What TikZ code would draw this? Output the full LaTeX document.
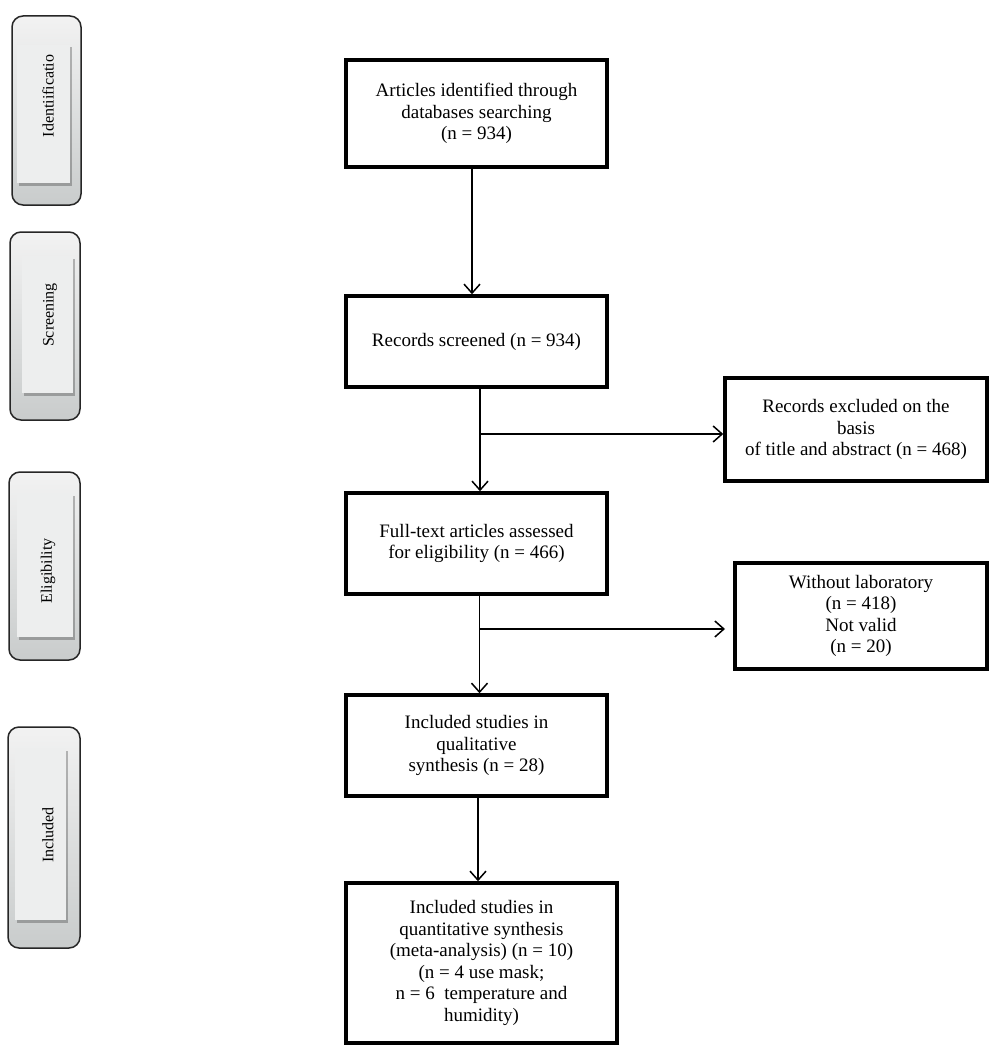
\documentclass[tikz,border=0pt]{standalone}
\usepackage{fontspec}
\setmainfont{Liberation Serif}
\usetikzlibrary{arrows.meta,shadows}
\definecolor{phtop}{HTML}{F2F2F2}
\definecolor{phbot}{HTML}{C9CCCC}
\definecolor{phin}{HTML}{EDEEEE}
\tikzset{
  box/.style={draw, line width=3.5pt, rectangle, align=center,
    font=\fontsize{19}{21.5}\selectfont, inner sep=0pt},
  arr/.style={line width=1.5pt, -{Straight Barb[length=9pt,width=16pt,line width=1.5pt]}},
  phase/.style={draw=black!85, line width=1.5pt, rounded corners=11pt,
    top color=phtop, bottom color=phbot, inner sep=0pt},
  phasein/.style={fill=phin, inner sep=0pt,
    drop shadow={shadow xshift=1.5pt, shadow yshift=-2.5pt, fill=black, opacity=0.25}},
  phasetxt/.style={rotate=90, font=\fontsize{16}{17}\selectfont, inner sep=0pt}
}
\begin{document}
\begin{tikzpicture}[x=1pt,y=-1pt]
\useasboundingbox (0,0) rectangle (1000,1049);

% phase boxes
\node[phase, minimum width=69pt, minimum height=189pt] (p1) at (46.5,110.5) {};
\node[phasein, minimum width=53pt, minimum height=138pt] (p1i) at (43.5,114) {};
\node[phasetxt] (t1) at (48,96) {Identiificatio};

\node[phase, minimum width=70pt, minimum height=188pt] (p2) at (45,326) {};
\node[phasein, minimum width=51pt, minimum height=137pt] (p2i) at (47.5,324.5) {};
\node[phasetxt] (t2) at (50,315) {Screening};

\node[phase, minimum width=71pt, minimum height=188pt] (p3) at (44.5,566) {};
\node[phasein, minimum width=56pt, minimum height=144pt] (p3i) at (45,565) {};
\node[phasetxt] (t3) at (48,571) {Eligibility};

\node[phase, minimum width=72pt, minimum height=221pt] (p4) at (44,837.5) {};
\node[phasein, minimum width=51pt, minimum height=172pt] (p4i) at (40.5,834) {};
\node[phasetxt] (t4) at (48,835) {Included};

% main boxes
\node[box, minimum width=261pt, minimum height=107pt] (b1) at (476.5,113.5)
  {Articles identified through\\databases searching\\(n = 934)};
\node[box, minimum width=261pt, minimum height=91pt] (b2) at (476.5,341.5)
  {Records screened (n = 934)};
\node[box, minimum width=262pt, minimum height=103pt] (b3) at (856,429.5)
  {Records excluded on the\\basis\\of title and abstract (n = 468)};
\node[box, minimum width=261pt, minimum height=101pt] (b4) at (476.5,543.5)
  {Full-text articles assessed\\for eligibility (n = 466)};
\node[box, minimum width=252pt, minimum height=106pt] (b5) at (861,616)
  {Without laboratory\\(n = 418)\\Not valid\\(n = 20)};
\node[box, minimum width=261pt, minimum height=101pt] (b6) at (476.5,745.5)
  {Included studies in\\qualitative\\synthesis (n = 28)};
\node[box, minimum width=271pt, minimum height=160pt] (b7) at (481.5,963)
  {Included studies in\\quantitative synthesis\\(meta-analysis) (n = 10)\\(n = 4 use mask;\\n = 6\ \ temperature and\\humidity)};

% connectors
\draw[arr] ([xshift=-4.5pt]b1.south) -- ([xshift=-4.5pt]b2.north);
\draw[arr] ([xshift=3.5pt]b2.south) -- ([xshift=3.5pt]b4.north);
\coordinate (j1) at (480,434);
\draw[arr] (j1) -- (j1 -| b3.west);
\draw[arr] ([xshift=3pt]b4.south) -- ([xshift=3pt]b6.north);
\coordinate (j2) at (480,629);
\coordinate (e2) at (725,629);
\draw[arr] (j2) -- (e2);
\draw[arr] ([xshift=1.5pt]b6.south) -- ([xshift=-3.5pt]b7.north);
\end{tikzpicture}
\end{document}
